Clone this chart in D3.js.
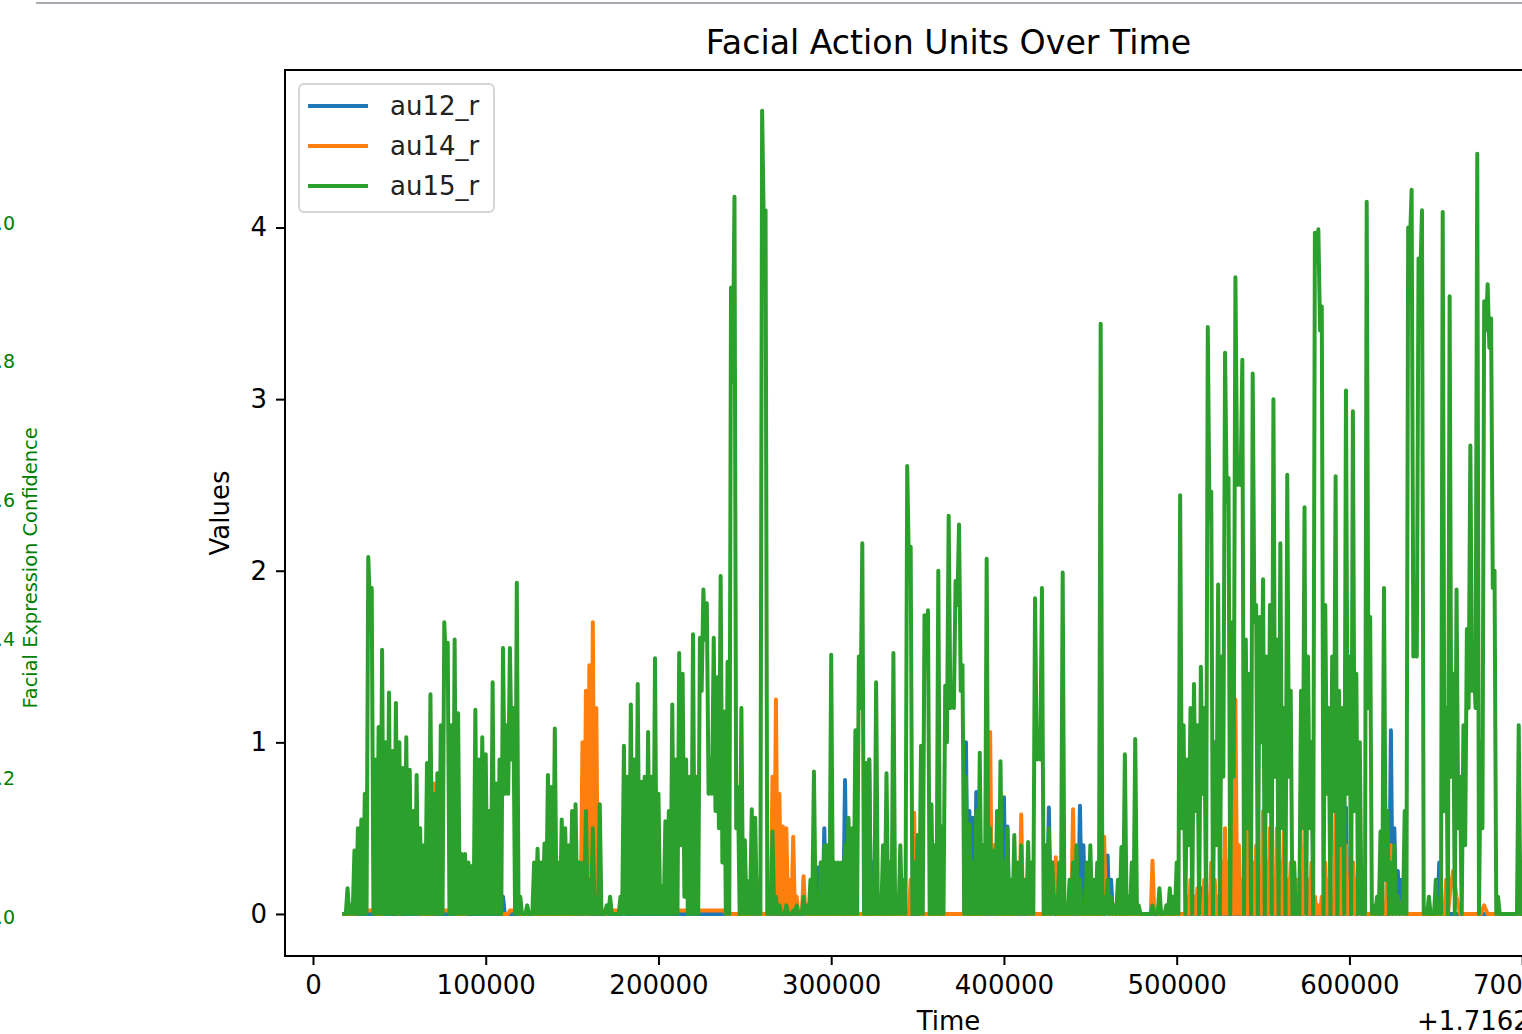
<!DOCTYPE html>
<html><head><meta charset="utf-8">
<script src="https://cdn.jsdelivr.net/npm/d3@7"></script>
<style>body{margin:0;background:#fff;overflow:hidden} svg{display:block} text{font-family:"DejaVu Sans",sans-serif}</style>
</head><body><svg id="chart" width="1522" height="1034"></svg>
<script>
// sampling grid of the time series (seconds offset from +1.7162e9):
// peaks at timeStart + i*timeStep, troughs half a step later
const timeStart = 18000, timeStep = 2000;

const au12_r = [
0,0,0,0,0,0,0,0,0,0, 0,0,0,0,0,0,0,0,0,0, 0,0,0,0,0,0,0,0,0,0, 0,0,0,0,0,0,0,0,0,0,
0,0,0,0,0,0,.1,0,0,0, 0,0,0,0,0,0,0,0,0,0, 0,0,0,0,0,0,0,0,0,0,
.07,0,0,0,0,0,0,0,0,0, 0,.3,0,0,0,0,0,0,0,0,
0,0,0,0,0,0,0,0,0,0, 0,0,0,0,0,0,0,0,0,0, 0,0,0,0,0,0,0,0,0,0, 0,0,0,0,0,0,0,0,0,0,
0,0,0,0,0,0,0,.27,.3,.5, .3,0,0,.1,.2,.78,.2,0,0,0, 0,.5,.9,.3,0,0,0,0,0,0,
0,0,0,0,0,0,0,0,0,0, 0,0,0,0,0,0,0,0,0,0,
1.0,.6,.56,.71,.4,0,0,0,0,0, 0,.68,.51,0,0,0,0,0,0,0, 0,0,0,0,.62,.3,0,0,0,0,
0,0,0,.63,.4,0,0,0,0,0, 0,.34,.2,0,0,0,0,0,0,0, 0,0,0,0,0,0,0,0,0,0,
0,0,0,0,0,0,.1,0,.15,0, 0,0,0,0,0,0,0,0,0,0, 0,0,0,0,0,0,0,0,.35,0,
0,0,0,0,0,0,0,0,.4,0, 0,0,0,0,0,0,0,0,0,0, .62,0,.3,0,.3,0,0,0,0,0,
0,0,0,1.07,.5,.25,.2,0,0,0, 0,0,0,0,0,0,0,.3,0,0,
0,0,0,0,0,0,0,0,0,0, 0,0,0,0,0,0,0,0,0,0, 0,0,0,0,0,0,0,0,0,0,
0];
const au12_r_low = [
0,0,0,0,0,0,0,0,0,0, 0,0,0,0,0,0,0,0,0,0, 0,0,0,0,0,0,0,0,0,0, 0,0,0,0,0,0,0,0,0,0,
0,0,0,0,0,0,0,0,0,0, 0,0,0,0,0,0,0,0,0,0, 0,0,0,0,0,0,0,0,0,0, 0,0,0,0,0,0,0,0,0,0,
0,0,0,0,0,0,0,0,0,0, 0,0,0,0,0,0,0,0,0,0, 0,0,0,0,0,0,0,0,0,0, 0,0,0,0,0,0,0,0,0,0,
0,0,0,0,0,0,0,0,0,0, 0,0,0,0,0,0,0,0,0,0, 0,0,0,0,0,0,0,0,0,0, 0,0,0,0,0,0,0,0,0,0,
0,0,0,0,0,0,0,0,0,0, 0,0,0,0,0,0,0,0,0,0, 0,0,0,0,0,0,0,0,0,0, 0,0,0,0,0,0,0,0,0,0,
0,0,0,0,0,0,0,0,0,0, 0,0,0,0,0,0,0,0,0,0, 0,0,0,0,0,0,0,0,0,0, 0,0,0,0,0,0,0,0,0,0,
0,0,0,0,0,0,0,0,0,0, 0,0,0,0,0,0,0,0,0,0, 0,0,0,0,0,0,0,0,0,0,
0,0,0,0,0,0,0,0,0,0, 0,0,0,0,0,0,0,0,0,0, 0,0,0,0,0,0,0,0,0,0, 0,0,0,0,0,0,0,0,0,0,
0,0,0,0,0,0,0,0,0,0];

const au14_r = [
0,0,0,0,.02,.02,.02,.02,.02,.02, 0,0,.02,.02,.02,.02,0,.02,.02,.02,
.02,.02,0,0,0,0,.76,.02,.02,.02, .02,.02,.02,0,0,0,.02,.02,.02,.02,
.02,.02,.02,.02,.02,.02,0,0,.02,.02, .02,0,0,0,0,0,0,0,0,0,
0,0,0,0,0,0,0,0,.3,1.0, 1.3,1.45,1.7,1.2,.02,.02,0,.02,.02,.02,
.02,.02,.02,.02,.02,.02,.02,.02,.02,.02, .02,.02,.02,.02,.02,.02,.02,.02,.02,.02,
.02,.02,.02,.02,.02,.02,.02,.02,.02,.02, .02,0,0,0,0,0,0,0,0,.05,
.2,0,0,.1,.8,1.25,.7,.51,.5,.2, .45,.1,0,.22,0,0,0,0,0,0,
0,0,0,0,0,0,0,0,0,0, 0,0,0,0,0,0,0,0,0,0, 0,0,0,0,.2,.59,.1,0,0,0,
0,0,0,0,0,0,0,0,0,0, 0,0,0,0,0,0,.3,1.06,.4,0, 0,0,0,0,0,.2,.58,.1,0,0,
0,0,0,0,0,.1,.33,0,0,0, 0,.61,.3,0,0,0,0,0,0,0, .45,.1,0,0,0,0,0,0,0,0,
0,0,0,0,.31,0,0,0,0,0, 0,0,0,0,.1,.2,.1,.15,.05,.2,
.1,.3,.2,.1,.3,.5,.3,.7,1.25,.4, .2,.5,.8,.3,.4,.2,.6,.3,.5,.2,
.5,.3,.48,.2,.3,.1,.2,.1,.5,.2, .3,.1,.05,.1,.3,.2,.1,.6,1.06,.3,
.4,.2,.3,.2,.1,.05,0,0,0,0, .05,0,.3,.4,.2,.1,.05,0,0,0,
0,0,0,0,0,0,0,0,0,.2, .1,.25,.1,0,0,0,0,0,0,0, .05,0,0,0,0,0,0,0,0,0,
0,0,0,0,0,0,0,0,0,0, 0];
const au14_r_low = [
0,0,0,0,.02,.02,.02,.02,.02,0, 0,0,.02,.02,.02,0,0,.02,.02,.02,
.02,0,0,0,0,0,0,.02,.02,.02, .02,.02,0,0,0,0,.02,.02,.02,.02,
.02,.02,.02,.02,.02,0,0,0,.02,.02, 0,0,0,0,0,0,0,0,0,0,
0,0,0,0,0,0,0,0,0,0, 0,0,0,0,.02,0,0,.02,.02,.02,
.02,.02,.02,.02,.02,.02,.02,.02,.02,.02, .02,.02,.02,.02,.02,.02,.02,.02,.02,.02,
.02,.02,.02,.02,.02,.02,.02,.02,.02,.02, 0,0,0,0,0,0,0,0,0,0,
0,0,0,0,0,0,0,0,0,0, 0,0,0,0,0,0,0,0,0,0, 0,0,0,0,0,0,0,0,0,0, 0,0,0,0,0,0,0,0,0,0,
0,0,0,0,0,0,0,0,0,0, 0,0,0,0,0,0,0,0,0,0, 0,0,0,0,0,0,0,0,0,0, 0,0,0,0,0,0,0,0,0,0,
0,0,0,0,0,0,0,0,0,0, 0,0,0,0,0,0,0,0,0,0, 0,0,0,0,0,0,0,0,0,0, 0,0,0,0,0,0,0,0,0,0,
0,0,0,0,0,0,0,0,0,0, 0,0,0,0,0,0,0,0,0,0, 0,0,0,0,0,0,0,0,0,0, 0,0,0,0,0,0,0,0,0,0,
0,0,0,0,0,0,0,0,0,0, 0,0,0,0,0,0,0,0,0,0, 0,0,0,0,0,0,0,0,0,0,
0,0,0,0,0,0,0,0,0,0];

const au15_r = [
0,.15,.05,.37,.5,.55,.7,2.08,1.9,.9,
1.09,1.54,1.0,1.29,.95,1.23,1.0,.85,1.03,.84,
.6,.81,.5,.4,.88,1.28,.7,.82,1.1,1.7,
1.58,1.1,1.6,1.17,.35,.35,.3,.28,1.19,.9,
1.03,.93,.6,1.35,.76,.9,1.55,1.1,1.55,1.2,
1.93,.1,0,.05,0,.3,.38,.3,.41,.81,
.74,1.08,.3,.55,.5,.4,.6,.64,.3,.3,
.6,.2,.5,.1,.64,0,.05,.1,0,0,
.1,.98,.8,1.22,.9,1.34,.77,.8,1.06,.8,
1.49,.7,.16,.54,.6,1.22,.9,1.52,1.4,.9,
.8,1.63,.8,1.61,1.89,1.81,.9,1.61,1.38,1.97,
1.18,1.47,3.65,4.18,.74,1.2,.43,.19,.61,.56,
.05,4.68,4.1,.05,.48,.1,.05,0,.05,0,
.02,.05,0,.1,.05,.2,.83,.1,.3,.4,
.4,1.51,.3,.3,.3,.4,.56,.5,1.07,1.5,
2.16,.88,.9,.1,1.35,.1,.4,.82,.3,1.52,
.1,.4,.2,2.61,2.14,.3,.46,.98,1.74,1.77,
.64,.4,2.0,.51,1.33,2.32,1.3,1.94,2.27,1.45,
.8,.52,.3,.6,.94,.4,2.07,.5,.37,.6,
.89,.3,.5,.2,.46,.3,.4,.2,.42,.3,
1.84,1.08,1.9,.4,.5,.3,.1,.3,1.99,.05,
.2,.3,.4,.2,.05,.3,.4,.2,.3,3.44,
.1,.2,.1,.05,.2,.39,.93,.1,.3,1.02,
.05,0,0,0,.05,0,.15,0,.05,.15,
.1,.3,2.44,1.1,.9,1.2,1.34,1.1,1.44,1.2,
3.42,2.46,1.0,1.92,1.5,3.27,2.54,1.7,3.71,2.64,
3.23,1.6,1.4,3.15,1.8,1.73,1.95,1.5,1.8,3.0,
1.6,2.16,1.2,2.56,1.3,.3,.1,1.3,2.37,1.5,
1.0,3.97,3.99,3.54,1.8,1.2,1.5,2.55,1.3,1.2,
3.05,1.5,2.93,1.4,1.0,.2,4.15,1.73,.05,.1,
.48,1.9,.6,.3,.4,.1,.05,.6,4.0,4.22,
1.67,3.82,4.1,.02,.1,0,.2,.05,4.09,1.2,
3.6,1.4,1.89,.8,1.1,1.66,2.73,1.5,4.43,1.0,
3.57,3.67,3.47,2.0,.1,0,0,0,0,0,
1.1,.3,.5,1.2,.2,.8,.1,0,.3,0,
0];
const au15_r_low = [
0,0,0,0,0,0,0,1.8,0,0,
0,0,0,0,0,0,0,0,0,0,
0,0,0,0,0,0,0,0,0,1.45,
0,0,0,0,0,0,0,0,0,0,
0,0,0,0,0,0,.7,.7,.9,0,
0,0,0,0,0,0,0,0,0,0,
0,0,0,0,0,0,0,0,0,0,
0,0,0,0,0,0,0,0,0,0,
0,0,0,0,0,0,0,0,0,0,
0,0,0,0,0,0,0,.4,.1,0,
0,0,0,1.3,1.6,.7,.7,.6,.5,.3,
0,0,3.1,.5,0,0,0,0,0,0,
0,4.0,0,0,0,0,0,0,0,0,
0,0,0,0,0,0,0,0,0,0,
0,0,0,0,0,0,0,0,0,1.2,
0,0,0,0,0,0,0,0,0,0,
0,0,0,2.0,0,0,0,0,1.5,0,
0,0,0,0,1.0,1.2,1.2,1.8,1.3,0,
0,0,0,0,0,0,0,0,0,0,
0,0,0,0,0,0,0,0,0,0,
.9,.9,0,0,0,0,0,0,0,0,
0,0,0,0,0,0,0,0,0,0,
0,0,0,0,0,0,0,0,0,0,
0,0,0,0,0,0,0,0,0,0,
0,0,.5,0,.4,0,.6,0,.7,0,
2.3,0,.4,0,.8,2.4,0,.8,2.5,2.5,
0,.5,0,1.7,0,1.0,0,.6,0,.8,
0,.5,0,.8,0,0,0,.5,0,.5,
0,3.8,3.4,0,.7,0,.6,0,.4,0,
.7,0,.6,0,0,0,1.2,0,0,0,
0,.2,0,0,0,0,0,0,3.9,1.5,
1.5,3.7,0,0,0,0,0,0,.6,0,
.8,0,.5,0,.4,1.2,1.3,1.2,0,.5,
3.4,3.3,1.9,0,0,0,0,0,0,0,
0,0,0,.1,0,0,0,0,0,0];

const seriesNames = ["au12_r", "au14_r", "au15_r"];
const seriesPeaks = [au12_r, au14_r, au15_r];
const seriesTroughs = [au12_r_low, au14_r_low, au15_r_low];
const seriesColors = ["#1f77b4", "#ff7f0e", "#2ca02c"];
const xTicks = [0, 100000, 200000, 300000, 400000, 500000, 600000, 700000];
const yTicks = [0, 1, 2, 3, 4];
const confTicks = [0, 0.2, 0.4, 0.6, 0.8, 1.0];
const titleText = "Facial Action Units Over Time";
const xLabel = "Time", yLabel = "Values", confLabel = "Facial Expression Confidence";
const offsetText = "+1.7162034e9";

const W = 1522, H = 1034;
const M = {left: 285, top: 70, right: 1612, bottom: 956};
const svg = d3.select("#chart");
svg.append("rect").attr("width", W).attr("height", H).attr("fill", "#fff");
// notebook cell divider at top
svg.append("rect").attr("x", 36).attr("y", 2).attr("width", W - 36).attr("height", 2).attr("fill", "#a9a9b1");

const x = d3.scaleLinear().domain([-16200, 752000]).range([M.left, M.right]);
const y = d3.scaleLinear().domain([-0.245, 4.918]).range([M.bottom, M.top]);
const conf = d3.scaleLinear().domain([0, 1]).range([917, 223]);

// partial left (confidence) axis, mostly off-canvas
const confAxis = svg.append("g").attr("transform", "translate(15,0)")
  .call(d3.axisLeft(conf).tickValues(confTicks).tickFormat(d3.format(".1f")).tickSize(0).tickPadding(0));
confAxis.select(".domain").remove();
confAxis.selectAll("text").attr("fill", "green").style("font-size", "19px");
svg.append("text").attr("transform", "translate(37,568) rotate(-90)").attr("text-anchor", "middle")
  .attr("fill", "green").style("font-size", "19.4px").text(confLabel);

// clip
svg.append("clipPath").attr("id", "clip").append("rect")
  .attr("x", M.left).attr("y", M.top).attr("width", M.right - M.left).attr("height", M.bottom - M.top);

function samples(peaks, troughs) {
  const pts = [];
  peaks.forEach((v, i) => {
    pts.push({t: timeStart + i * timeStep, v: v});
    if (i < troughs.length) pts.push({t: timeStart + i * timeStep + timeStep / 2, v: troughs[i]});
  });
  return pts;
}
const line = d3.line().x(d => x(d.t)).y(d => y(d.v));
const plot = svg.append("g").attr("clip-path", "url(#clip)");
seriesPeaks.forEach((vals, k) => {
  plot.append("path").datum(samples(vals, seriesTroughs[k])).attr("d", line).attr("fill", "none")
    .attr("stroke", seriesColors[k]).attr("stroke-width", 4)
    .attr("stroke-linejoin", "round").attr("stroke-linecap", "square");
});

// axes
const xa = svg.append("g").attr("transform", `translate(0,${M.bottom})`)
  .call(d3.axisBottom(x).tickValues(xTicks).tickFormat(d3.format("d")).tickSize(9).tickPadding(11));
const ya = svg.append("g").attr("transform", `translate(${M.left},0)`)
  .call(d3.axisLeft(y).tickValues(yTicks).tickFormat(d3.format("d")).tickSize(9).tickPadding(9));
[xa, ya].forEach(g => {
  g.select(".domain").remove();
  g.selectAll(".tick line").attr("stroke", "#000").attr("stroke-width", 2);
  g.selectAll("text").attr("fill", "#000").style("font-size", "26px").style("font-family", "DejaVu Sans");
});

// frame
svg.append("rect").attr("x", M.left).attr("y", M.top).attr("width", M.right - M.left).attr("height", M.bottom - M.top)
  .attr("fill", "none").attr("stroke", "#000").attr("stroke-width", 2);

const cx = (M.left + M.right) / 2;
svg.append("text").attr("x", cx).attr("y", 54).attr("text-anchor", "middle").style("font-size", "33.2px").text(titleText);
svg.append("text").attr("x", cx).attr("y", 1030).attr("text-anchor", "middle").style("font-size", "26px").text(xLabel);
svg.append("text").attr("x", M.right).attr("y", 1030).attr("text-anchor", "end").style("font-size", "26px").text(offsetText);
svg.append("text").attr("transform", `translate(229,${(M.top + M.bottom) / 2}) rotate(-90)`).attr("text-anchor", "middle")
  .style("font-size", "26px").text(yLabel);

// legend
const lg = svg.append("g");
lg.append("rect").attr("x", 299).attr("y", 84).attr("width", 195).attr("height", 128).attr("rx", 5)
  .attr("fill", "#fff").attr("fill-opacity", 0.8).attr("stroke", "#d6d6d6").attr("stroke-width", 2);
seriesNames.forEach((n, i) => {
  const yy = 106 + i * 40;
  lg.append("line").attr("x1", 308).attr("x2", 368).attr("y1", yy).attr("y2", yy)
    .attr("stroke", seriesColors[i]).attr("stroke-width", 3.9);
  lg.append("text").attr("x", 390).attr("y", yy).attr("dy", "0.35em").style("font-size", "26px").attr("fill", "#222").text(n);
});
</script></body></html>
